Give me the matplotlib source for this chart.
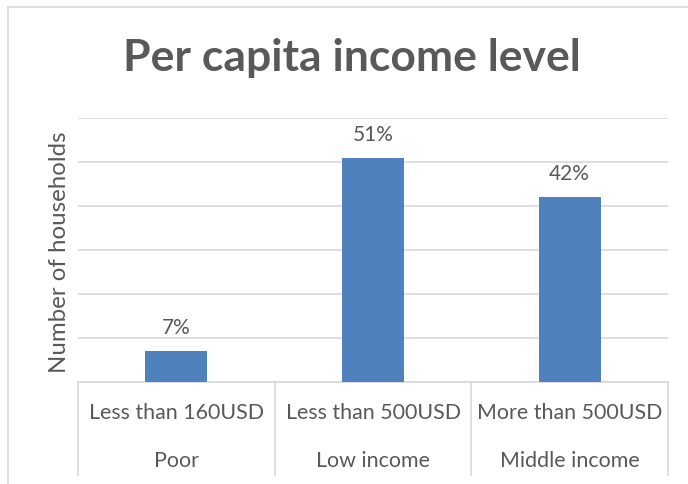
import matplotlib
matplotlib.use("Agg")
import matplotlib.pyplot as plt
from matplotlib.lines import Line2D
import matplotlib.transforms as mtransforms

categories = ["Less than 160USD", "Less than 500USD", "More than 500USD"]
groups = ["Poor", "Low income", "Middle income"]
values = [7, 51, 42]
labels = ["7%", "51%", "42%"]

plt.rcParams['font.family'] = ['Lato', 'DejaVu Sans']
TXT = '#595959'
GRID = '#d9d9d9'

fig = plt.figure(figsize=(6.88, 4.85), dpi=100)
W, H = 688, 485
left, right, bottom, top = 78, 668, 382.7, 119
ax = fig.add_axes([left / W, (H - bottom) / H, (right - left) / W, (bottom - top) / H])

x = list(range(len(categories)))
ax.bar(x, values, width=0.315, color='#4f81bd', zorder=3)
ax.set_xlim(-0.5, len(categories) - 0.5)
ax.set_ylim(0, 60)
ax.set_yticks(range(0, 61, 10))
ax.yaxis.grid(True, color=GRID, linewidth=1.2, zorder=0)
ax.set_yticklabels([])
ax.tick_params(axis='y', length=0)
ax.set_xticks([])
for s in ['top', 'right', 'left']:
    ax.spines[s].set_visible(False)
ax.spines['bottom'].set_color(GRID)
ax.spines['bottom'].set_linewidth(1.2)

for xi, v, lab in zip(x, values, labels):
    ax.annotate(lab, (xi, v), xytext=(0, 10), textcoords='offset points',
                ha='center', va='bottom', fontsize=15, color=TXT)

trans = mtransforms.blended_transform_factory(ax.transData, ax.transAxes)
sep_bottom = (bottom - 476) / (bottom - top)
for b in [-0.5, 0.5, 1.5, 2.5]:
    ax.add_line(Line2D([b, b], [0, sep_bottom], transform=trans, color=GRID,
                       linewidth=1.2, clip_on=False))

row1 = (bottom - 413) / (bottom - top)
row2 = (bottom - 461) / (bottom - top)
for xi, c, g in zip(x, categories, groups):
    ax.text(xi, row1, c, transform=trans, ha='center', va='center', fontsize=15.4, color=TXT)
    ax.text(xi, row2, g, transform=trans, ha='center', va='center', fontsize=15.4, color=TXT)

fig.text(60 / W, 1 - 252 / H, "Number of households", rotation=90, ha='center', va='center',
         fontsize=17.3, color=TXT)

fig.text(352 / W, 1 - 58 / H, "Per capita income level", ha='center', va='center',
         fontsize=32, fontweight='bold', color=TXT)

# outer chart border (left and top visible)
fig.add_artist(Line2D([7.5 / W, 7.5 / W], [0, 1 - 7.5 / H], transform=fig.transFigure,
                      color=GRID, linewidth=1.2))
fig.add_artist(Line2D([7.5 / W, 1], [1 - 7.5 / H, 1 - 7.5 / H], transform=fig.transFigure,
                      color=GRID, linewidth=1.2))

fig.savefig("out.png", dpi=100)
